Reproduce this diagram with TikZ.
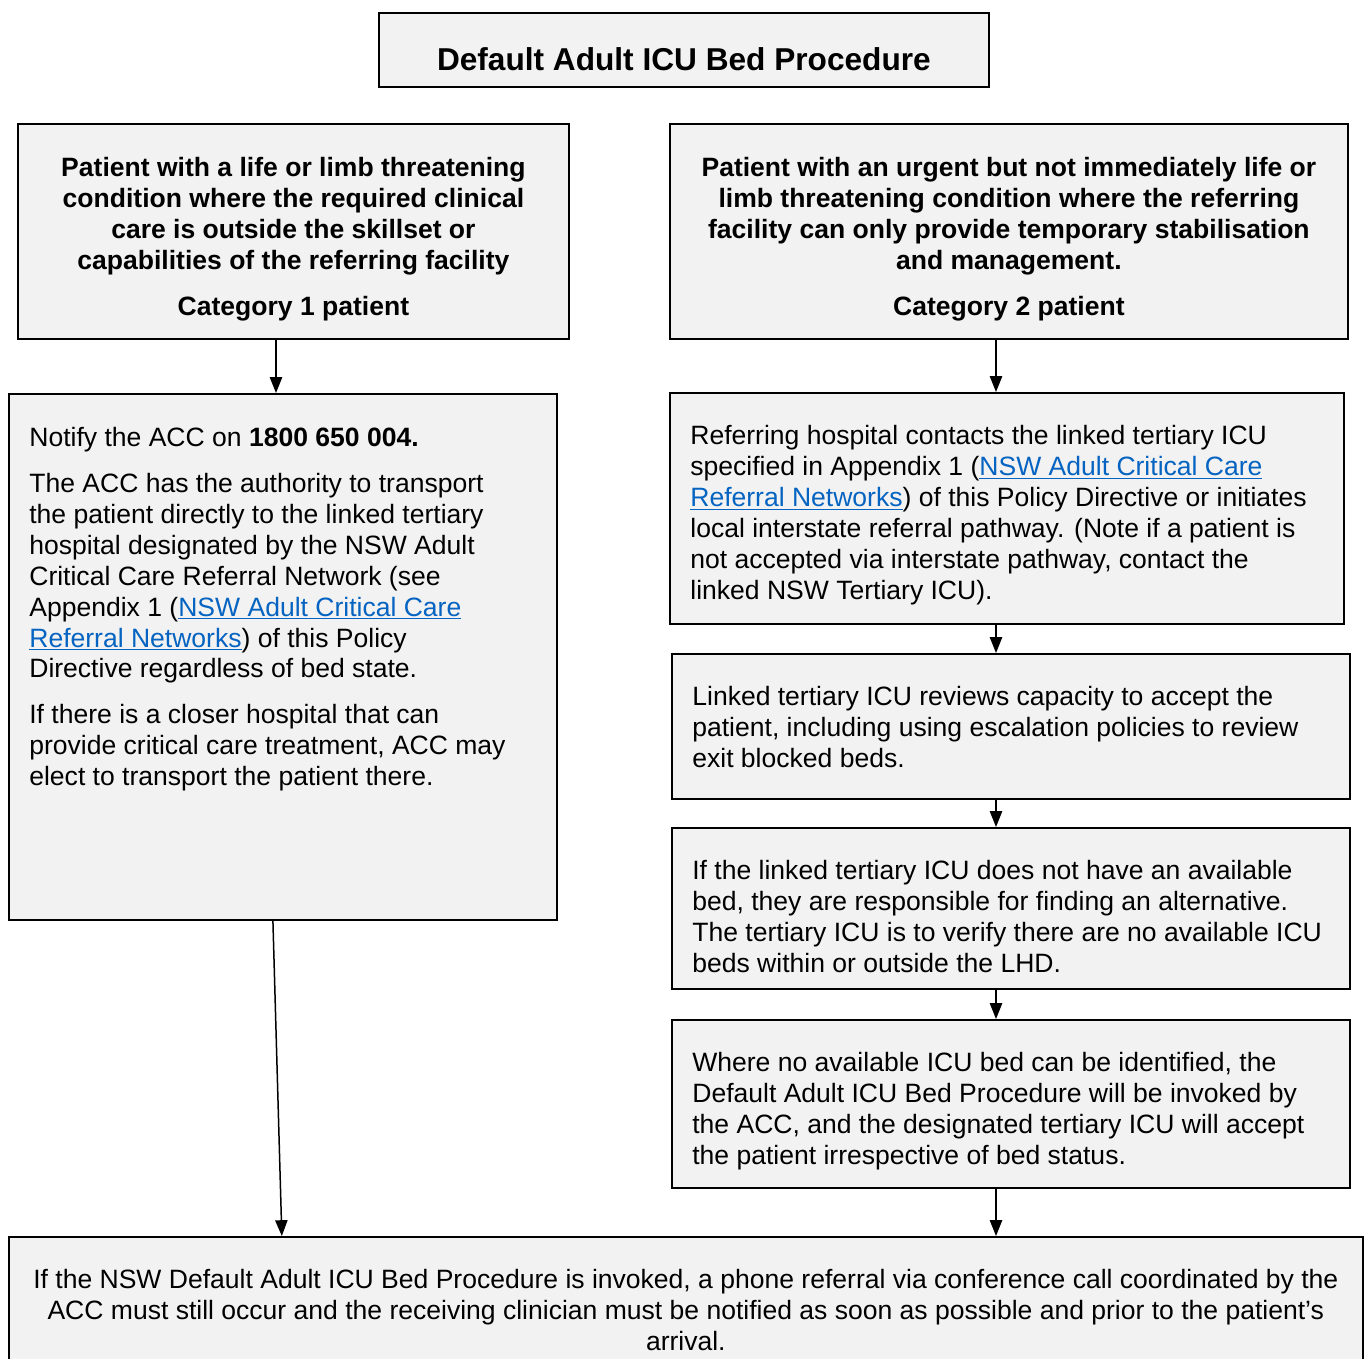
\documentclass[tikz,border=0pt]{standalone}
\usepackage{fontspec}
\setmainfont{Liberation Sans}
\usepackage{tikz}
\usetikzlibrary{arrows.meta,positioning}
\definecolor{boxgray}{HTML}{F2F2F2}
\definecolor{linkblue}{HTML}{0563C1}
\newcommand{\weblink}[1]{{\color{linkblue}\underline{#1}}}

\begin{document}
\begin{tikzpicture}[x=0.02cm, y=-0.02cm,
    procbox/.style={draw=black, line width=1.1pt, fill=boxgray, inner sep=0pt, anchor=north west},
    boxtext/.style={inner sep=0pt, font=\fontsize{15.1}{17.6}\selectfont},
    boldtext/.style={inner sep=0pt, font=\fontsize{15.1}{17.6}\selectfont\bfseries},
    flow/.style={line width=0.85pt, -{Triangle[width=7pt,length=9pt]}}]
  \useasboundingbox (0,0) rectangle (1368,1358);
  % boxes
  \node[procbox, minimum width=12.2cm, minimum height=1.48cm] (title) at (378,12) {};
  \node[procbox, minimum width=11.02cm, minimum height=4.3cm] (cat1) at (17,123) {};
  \node[procbox, minimum width=13.56cm, minimum height=4.3cm] (cat2) at (669,123) {};
  \node[procbox, minimum width=10.96cm, minimum height=10.52cm] (notify) at (8,393) {};
  \node[procbox, minimum width=13.48cm, minimum height=4.62cm] (ref) at (669,392) {};
  \node[procbox, minimum width=13.56cm, minimum height=2.9cm] (linked) at (671,653) {};
  \node[procbox, minimum width=13.56cm, minimum height=3.22cm] (ifbox) at (671,827) {};
  \node[procbox, minimum width=13.56cm, minimum height=3.36cm] (where) at (671,1019) {};
  \node[procbox, minimum width=27.08cm, minimum height=2.98cm] (bottom) at (8,1236) {};
  % texts
  \node[inner sep=0pt, anchor=north, font=\fontsize{18}{21}\selectfont\bfseries] (titletxt)
    at ([shift={(0,35)}]title.north) {Default Adult ICU Bed Procedure};
  \node[boldtext, anchor=north, align=center] (cat1txt) at ([shift={(0,34)}]cat1.north)
    {Patient with a life or limb threatening\\ condition where the required clinical\\
     care is outside the skillset or\\ capabilities of the referring facility\\[8.5pt]
     Category 1 patient};
  \node[boldtext, anchor=north, align=center] (cat2txt) at ([shift={(0,34)}]cat2.north)
    {Patient with an urgent but not immediately life or\\ limb threatening condition where the referring\\
     facility can only provide temporary stabilisation\\ and management.\\[8.5pt]
     Category 2 patient};
  \node[boxtext, anchor=north west, align=left] (notifytxt) at ([shift={(21,34)}]notify.north west)
    {Notify the ACC on \textbf{1800 650 004.}\\[8.5pt]
     The ACC has the authority to transport\\ the patient directly to the linked tertiary\\
     hospital designated by the NSW Adult\\ Critical Care Referral Network (see\\
     Appendix 1 (\weblink{NSW Adult Critical Care}\\ \weblink{Referral Networks}) of this Policy\\
     Directive regardless of bed state.\\[8.5pt]
     If there is a closer hospital that can\\ provide critical care treatment, ACC may\\
     elect to transport the patient there.};
  \node[boxtext, anchor=north west, align=left] (reftxt) at ([shift={(21,33)}]ref.north west)
    {Referring hospital contacts the linked tertiary ICU\\
     specified in Appendix 1 (\weblink{NSW Adult Critical Care}\\
     \weblink{Referral Networks}) of this Policy Directive or initiates\\
     local interstate referral pathway. (Note if a patient is\\
     not accepted via interstate pathway, contact the\\ linked NSW Tertiary ICU).};
  \node[boxtext, anchor=north west, align=left] (linkedtxt) at ([shift={(21,33)}]linked.north west)
    {Linked tertiary ICU reviews capacity to accept the\\
     patient, including using escalation policies to review\\ exit blocked beds.};
  \node[boxtext, anchor=north west, align=left] (iftxt) at ([shift={(21,33)}]ifbox.north west)
    {If the linked tertiary ICU does not have an available\\
     bed, they are responsible for finding an alternative.\\
     The tertiary ICU is to verify there are no available ICU\\ beds within or outside the LHD.};
  \node[boxtext, anchor=north west, align=left] (wheretxt) at ([shift={(21,33)}]where.north west)
    {Where no available ICU bed can be identified, the\\
     Default Adult ICU Bed Procedure will be invoked by\\
     the ACC, and the designated tertiary ICU will accept\\ the patient irrespective of bed status.};
  \node[boxtext, anchor=north, align=center] (bottomtxt) at ([shift={(0,33)}]bottom.north)
    {If the NSW Default Adult ICU Bed Procedure is invoked, a phone referral via conference call coordinated by the\\
     ACC must still occur and the receiving clinician must be notified as soon as possible and prior to the patient’s\\
     arrival.};
  % arrows
  \coordinate (leftcol) at (276,0);
  \coordinate (rightcol) at (996,0);
  \draw[flow] (cat1.south -| leftcol) -- (notify.north -| leftcol);
  \draw[flow] (cat2.south -| rightcol) -- (ref.north -| rightcol);
  \draw[flow] (ref.south -| rightcol) -- (linked.north -| rightcol);
  \draw[flow] (linked.south -| rightcol) -- (ifbox.north -| rightcol);
  \draw[flow] (ifbox.south -| rightcol) -- (where.north -| rightcol);
  \draw[flow] (where.south -| rightcol) -- (bottom.north -| rightcol);
  \draw[flow] ([shift={(-10,0)}]notify.south) -- ([shift={(-404,0)}]bottom.north);
\end{tikzpicture}
\end{document}
